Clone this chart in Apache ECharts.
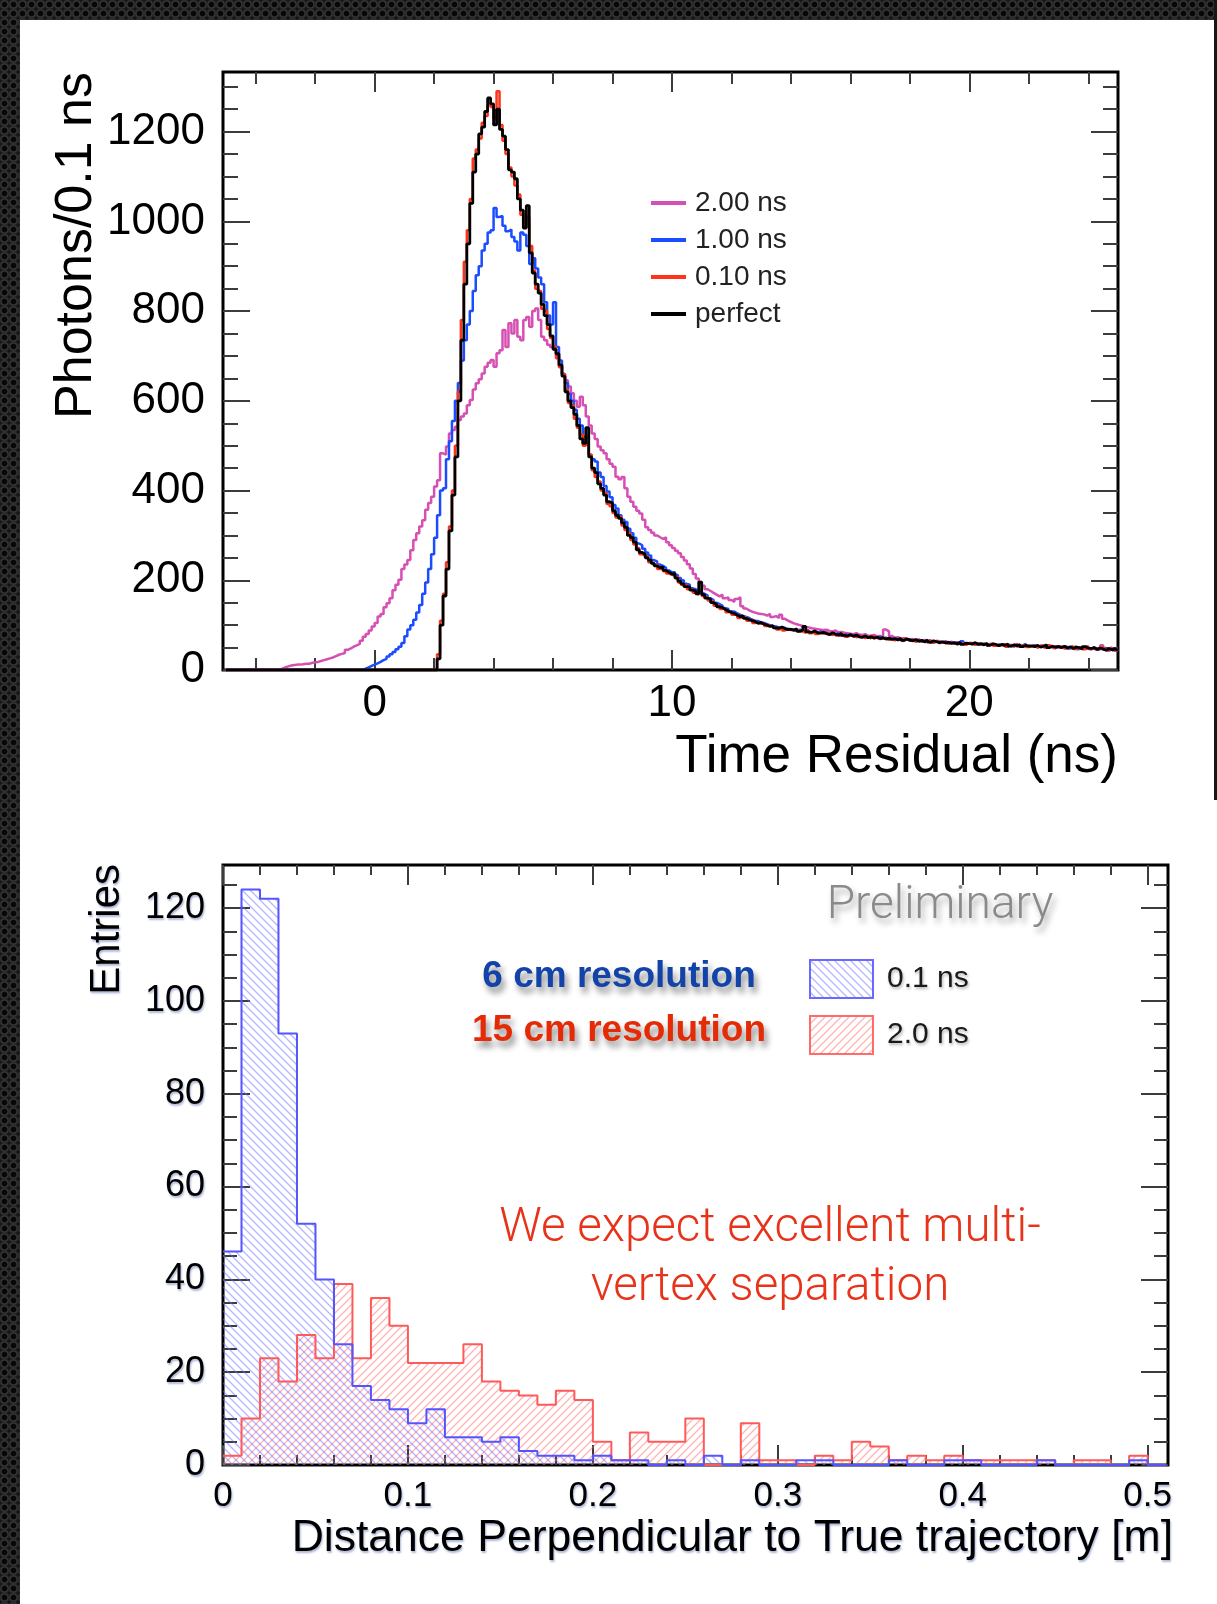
<!DOCTYPE html>
<html>
<head>
<meta charset="utf-8">
<title>Time residual and vertex distance</title>
<script src="https://cdn.jsdelivr.net/npm/echarts@6/dist/echarts.min.js"></script>
<style>
  html, body { margin: 0; padding: 0; width: 1217px; height: 1604px; overflow: hidden; }
  body {
    background-color: #1b1b1b;
    background-image: radial-gradient(circle, #070707 0 2.4px, #3b3b3b 3.4px, #272727 4.4px, #141414 5.6px);
    background-size: 9px 9px;
  }
  #panel { position: absolute; left: 20px; top: 20px; right: 0; bottom: 0; background: #fff; }
  #edge { position: absolute; left: 1214px; top: 0; width: 3px; height: 800px; background: #161616; }
  #chart { position: absolute; left: 0; top: 0; width: 1217px; height: 1604px; }
</style>
</head>
<body>
<div id="panel"></div>
<div id="edge"></div>
<div id="chart"></div>
<script>
// ---------- Time residual histograms: photons per 0.1 ns bin, bins from -5.0 ns ----------
const TR_START = -5.0;
const TR_BIN = 0.1;

const perfect = [
  0,0,0,0,0,0,0,0,0,0,   // -5.0
  0,0,0,0,0,0,0,0,0,0,   // -4.0
  0,0,0,0,0,0,0,0,0,0,   // -3.0
  0,0,0,0,0,0,0,0,0,0,   // -2.0
  0,0,0,0,0,0,0,0,0,0,   // -1.0
  0,0,0,0,0,0,0,0,0,0,   //  0.0
  0,0,0,0,0,0,0,0,0,0,   //  1.0
  0,25,100,165,225,310,390,475,600,735,
  860,950,1040,1110,1150,1195,1210,1245,1275,1262,
  1215,1250,1205,1190,1160,1115,1110,1095,1050,1025,
  985,1035,930,885,860,840,815,790,770,745,
  715,705,680,655,620,600,585,570,545,515,
  505,540,475,450,440,415,405,390,375,372,
  355,345,338,328,318,300,295,285,268,262,
  258,250,245,238,232,228,230,222,218,214,
  215,205,198,192,186,185,178,176,170,196,
  168,160,158,150,146,141,139,135,131,128,
  126,122,119,121,115,112,110,108,104,106,
  102,100,97,99,94,93,96,92,90,91,
  88,92,86,89,97,85,84,87,83,82,
  84,81,79,83,80,78,82,77,76,79,
  75,78,74,73,76,72,74,71,73,70,
  72,69,71,68,70,67,71,66,69,67,
  65,68,64,66,63,67,62,65,63,61,
  63,60,62,59,61,58,62,57,60,59,
  58,61,57,59,56,60,55,58,57,54,
  57,55,58,53,56,54,57,52,55,53,
  54,52,55,51,53,56,50,53,51,52,
  50,53,49,52,48,51,50,47,52,49,
  48,50,46,49,47,44,48,45,47,44
];

const res010 = [
  0,0,0,0,0,0,0,0,0,0,
  0,0,0,0,0,0,0,0,0,0,
  0,0,0,0,0,0,0,0,0,0,
  0,0,0,0,0,0,0,0,0,0,
  0,0,0,0,0,0,0,0,0,0,
  0,0,0,0,0,0,0,0,0,0,
  0,0,0,0,0,0,0,0,0,0,
  0,35,110,170,240,320,400,500,620,780,
  910,980,1050,1140,1160,1185,1220,1235,1260,1255,
  1230,1290,1215,1180,1150,1120,1100,1080,1060,1015,
  990,1010,945,890,850,845,805,800,760,740,
  720,695,675,660,625,595,590,560,540,525,
  500,520,480,445,430,420,400,395,370,365,
  350,340,342,322,312,305,290,280,272,258,
  255,252,240,236,235,225,226,220,215,212,
  210,207,195,190,189,180,180,172,168,175,
  165,162,155,152,143,144,136,137,129,130,
  123,124,116,119,117,110,112,105,106,103,
  104,98,99,96,95,90,93,88,92,89,
  90,89,87,86,83,88,82,86,80,84,
  81,83,80,78,82,77,79,80,74,77,
  77,73,76,75,71,74,70,75,72,69,
  70,71,67,70,66,69,68,64,70,66,
  67,63,66,65,62,64,66,61,64,60,
  61,62,58,61,60,57,60,59,56,60,
  60,56,59,57,58,55,57,59,54,56,
  55,58,52,56,53,57,53,54,56,51,
  53,54,50,54,52,49,55,51,48,53,
  52,48,51,50,53,47,49,52,46,50,
  46,49,48,45,50,46,43,47,45,42
];

const res100 = [
  0,0,0,0,0,0,0,0,0,0,
  0,0,0,0,0,0,0,0,0,0,
  0,0,0,0,0,0,0,0,0,0,
  0,0,0,0,0,0,0,0,0,0,
  0,0,0,0,0,0,3,6,9,12,
  15,18,22,25,30,35,40,46,52,60,
  75,90,100,112,128,145,170,195,225,258,
  295,345,400,405,470,510,555,600,640,690,
  735,770,800,845,880,900,935,950,975,980,
  1030,1010,1012,990,978,982,965,955,935,975,
  970,945,905,918,895,875,860,820,790,770,
  820,720,690,660,640,615,600,580,560,545,
  520,505,480,470,465,440,430,410,398,385,
  368,360,345,335,330,315,305,295,282,278,
  270,262,255,245,242,235,232,228,222,218,
  218,212,205,200,192,190,182,180,176,172,
  170,166,160,156,150,147,143,138,136,131,
  130,126,123,120,118,116,112,110,109,106,
  105,102,100,98,97,95,93,94,91,90,
  91,88,90,87,86,89,84,85,83,86,
  82,84,80,81,79,82,77,80,78,76,
  78,75,77,73,76,72,75,73,71,74,
  70,72,69,71,67,70,68,66,69,65,
  66,64,67,63,65,62,66,61,64,62,
  61,63,60,62,58,61,59,64,58,60,
  57,60,58,56,59,55,58,56,54,57,
  56,54,57,55,52,56,53,55,58,52,
  53,55,51,54,52,50,54,52,49,53,
  51,49,53,48,50,52,47,51,49,48,
  47,49,45,48,46,50,44,47,43,46
];

const res200 = [
  0,0,0,0,0,0,0,0,0,0,
  0,0,0,0,0,0,0,0,3,6,
  8,10,11,12,12,13,14,14,16,17,
  18,20,22,24,26,28,31,34,36,38,
  45,48,52,55,58,65,74,80,88,97,
  105,119,125,140,149,160,178,190,201,225,
  235,245,267,290,305,320,334,357,372,386,
  409,423,483,480,498,527,535,542,557,565,
  572,590,602,625,639,648,661,676,685,691,
  676,706,713,758,720,773,750,780,743,735,
  780,787,765,800,806,780,743,735,725,720,
  715,700,676,660,646,632,617,600,587,609,
  590,565,545,527,515,498,490,483,470,460,
  453,431,425,430,405,386,375,364,355,349,
  335,318,312,306,300,296,292,296,285,278,
  272,266,260,252,244,236,226,214,204,196,
  188,180,176,172,168,164,168,160,162,156,
  152,158,162,142,137,133,130,128,126,125,
  124,121,125,118,120,116,123,114,110,107,
  104,102,100,98,96,95,93,92,91,90,
  89,90,87,86,88,84,85,83,82,81,
  80,82,79,78,80,76,77,78,75,76,
  74,90,86,76,72,73,70,71,69,68,
  69,66,68,65,67,64,66,63,65,64,
  62,64,61,63,60,62,59,61,58,60,
  59,57,60,56,58,55,57,59,54,56,
  57,54,56,53,55,58,52,54,53,55,
  52,55,51,53,56,50,52,54,49,51,
  50,53,48,51,49,52,47,50,48,53,
  47,51,46,49,55,45,48,50,44,47
];

// ---------- Distance to the true trajectory: entries per 0.01 m bin, bins from 0 ----------
const DIST_START = 0;
const DIST_BIN = 0.01;
const dist01ns = [
  46,124,122,93,52,40,26,17,14,12,
  9,12,6,6,5,6,3,2,2,1,
  2,1,1,0,1,0,2,0,1,0,
  0,1,1,0,0,0,1,0,0,1,
  1,0,0,0,1,0,0,0,0,1,
  0
];
const dist20ns = [
  2,10,23,18,28,23,39,23,36,30,
  22,22,22,26,18,16,15,13,16,14,
  5,1,7,5,5,10,0,0,9,1,
  1,0,2,1,5,4,1,2,1,2,
  1,1,1,1,1,0,1,1,0,2,
  0
];

// ---------- Axis ticks ----------
const trTicksX = [0, 10, 20];
const trMinorX = [-4, -2, 2, 4, 6, 8, 12, 14, 16, 18, 22, 24];
const trTicksY = [0, 200, 400, 600, 800, 1000, 1200];
const trMinorY = [50, 100, 150, 250, 300, 350, 450, 500, 550, 650, 700, 750, 850, 900, 950, 1050, 1100, 1150, 1250, 1300];
const dTicksX = [0, 0.1, 0.2, 0.3, 0.4, 0.5];
const dMinorX = [0.02, 0.04, 0.06, 0.08, 0.12, 0.14, 0.16, 0.18, 0.22, 0.24, 0.26, 0.28,
                 0.32, 0.34, 0.36, 0.38, 0.42, 0.44, 0.46, 0.48];
const dTicksY = [0, 20, 40, 60, 80, 100, 120];
const dMinorY = [5, 10, 15, 25, 30, 35, 45, 50, 55, 65, 70, 75, 85, 90, 95, 105, 110, 115, 125];

const FONT = '"Liberation Sans", Arial, Helvetica, sans-serif';
const LIGHT = 'Roboto, "Liberation Sans", sans-serif';

// Histogram bins as step-line points (left edges, plus the closing right edge).
function histPoints(values, start, width) {
  const pts = values.map((v, i) => [+(start + i * width).toFixed(4), v]);
  pts.push([+(start + values.length * width).toFixed(4), values[values.length - 1]]);
  return pts;
}

// Diagonal hatch tile used as a fill pattern.
function hatch(color, rising, size, lw) {
  const c = document.createElement('canvas');
  c.width = size; c.height = size;
  const g = c.getContext('2d');
  g.strokeStyle = color;
  g.lineWidth = lw;
  g.beginPath();
  if (rising) {
    g.moveTo(0, size); g.lineTo(size, 0);
    g.moveTo(-size / 2, size / 2); g.lineTo(size / 2, -size / 2);
    g.moveTo(size / 2, size * 1.5); g.lineTo(size * 1.5, size / 2);
  } else {
    g.moveTo(0, 0); g.lineTo(size, size);
    g.moveTo(-size / 2, size / 2); g.lineTo(size / 2, size * 1.5);
    g.moveTo(size / 2, -size / 2); g.lineTo(size * 1.5, size / 2);
  }
  g.stroke();
  return { image: c, repeat: 'repeat' };
}

// Four tick sets (major + minor on both sides) for one direction of a framed plot.
function frameAxes(dim, gridIndex, min, max, major, minor, majorLen, minorLen, label) {
  const sides = dim === 'x' ? ['bottom', 'top'] : ['left', 'right'];
  const out = [];
  sides.forEach((pos, s) => {
    [[major, majorLen], [minor, minorLen]].forEach(([vals, len], m) => {
      out.push({
        type: 'value', gridIndex: gridIndex, position: pos, min: min, max: max,
        silent: true,
        axisLine: { show: false, onZero: false },
        splitLine: { show: false },
        axisTick: { show: true, inside: true, length: len, customValues: vals,
                    lineStyle: { color: '#3c3c3c', width: 2 } },
        axisLabel: (s === 0 && m === 0)
          ? Object.assign({ show: true, customValues: vals, formatter: v => String(v) }, label)
          : { show: false }
      });
    });
  });
  return out;
}

const topLabelX = { fontSize: 44, fontFamily: FONT, color: '#000', margin: 12 };
const topLabelY = { fontSize: 44, fontFamily: FONT, color: '#000', margin: 18 };
const fringe = { textShadowColor: 'rgba(20,50,140,0.35)', textShadowBlur: 2, textShadowOffsetX: 1, textShadowOffsetY: 2 };
const botLabelX = Object.assign({ fontSize: 35, fontFamily: FONT, color: '#000', margin: 14 }, fringe);
const botLabelY = Object.assign({ fontSize: 36, fontFamily: FONT, color: '#000', margin: 18 }, fringe);

const xAxes = [].concat(
  frameAxes('x', 0, -5.1, 25, trTicksX, trMinorX, 20, 12, topLabelX),
  frameAxes('x', 1, 0, 0.511, dTicksX, dMinorX, 20, 10, botLabelX)
);
const yAxes = [].concat(
  frameAxes('y', 0, 0, 1333, trTicksY, trMinorY, 27, 15, topLabelY),
  frameAxes('y', 1, 0, 129.3, dTicksY, dMinorY, 27, 14, botLabelY)
);

const C_MAG = '#d64fb2', C_BLUE = '#1b4cff', C_RED = '#ff3319', C_BLACK = '#000000';
const H_BLUE = '#5555ff', H_RED = '#ff5a5a';
const bluePattern = hatch('rgba(110,110,255,0.5)', false, 8, 1.3);
const redPattern = hatch('rgba(255,105,105,0.5)', true, 8, 1.3);

function trSeries(name, values, color, width) {
  return {
    type: 'line', name: name, xAxisIndex: 0, yAxisIndex: 0,
    step: 'end', symbol: 'none', showSymbol: false, silent: true,
    color: color,
    lineStyle: { color: color, width: width },
    data: histPoints(values, TR_START, TR_BIN)
  };
}
function distSeries(name, values, color, pattern) {
  return {
    type: 'line', name: name, xAxisIndex: 4, yAxisIndex: 4,
    step: 'end', symbol: 'none', showSymbol: false, silent: true,
    color: color,
    lineStyle: { color: color, width: 2 },
    areaStyle: { color: pattern, opacity: 1 },
    data: histPoints(values, DIST_START, DIST_BIN)
  };
}

function label(text, x, y, opts) {
  return {
    type: 'text', x: x, y: y, rotation: opts.rotation || 0, silent: true, z: 100,
    style: Object.assign({
      text: text, fontFamily: FONT, fill: '#000',
      align: opts.align || 'left', textAlign: opts.align || 'left',
      verticalAlign: 'middle', textVerticalAlign: 'middle'
    }, opts.style)
  };
}

const chart = echarts.init(document.getElementById('chart'), null, { renderer: 'canvas', width: 1217, height: 1604 });
chart.setOption({
  animation: false,
  backgroundColor: 'transparent',
  grid: [
    { left: 223, top: 72, width: 895, height: 598, show: true, borderColor: '#000', borderWidth: 3, backgroundColor: 'transparent' },
    { left: 223, top: 865, width: 945, height: 600, show: true, borderColor: '#000', borderWidth: 3, backgroundColor: 'transparent' }
  ],
  xAxis: xAxes,
  yAxis: yAxes,
  legend: [
    {
      data: ['2.00 ns', '1.00 ns', '0.10 ns', 'perfect'],
      orient: 'vertical', left: 651, top: 189, padding: 0,
      icon: 'rect', itemWidth: 35, itemHeight: 4, itemGap: 9,
      selectedMode: false,
      textStyle: { fontSize: 28, fontFamily: FONT, color: '#222', lineHeight: 28, padding: [0, 0, 0, 4] }
    },
    {
      data: [
        { name: '0.1 ns', icon: 'rect', itemStyle: { color: bluePattern, borderColor: '#6a6aff', borderWidth: 2 } },
        { name: '2.0 ns', icon: 'rect', itemStyle: { color: redPattern, borderColor: '#ff6a6a', borderWidth: 2 } }
      ],
      orient: 'vertical', left: 809, top: 959, padding: 0,
      itemWidth: 63, itemHeight: 38, itemGap: 16,
      selectedMode: false,
      textStyle: Object.assign({ fontSize: 30, fontFamily: FONT, color: '#1a1a1a', padding: [0, 0, 0, 9] },
        { textShadowColor: 'rgba(0,0,0,0.3)', textShadowBlur: 3, textShadowOffsetX: 1, textShadowOffsetY: 2 })
    }
  ],
  series: [
    trSeries('2.00 ns', res200, C_MAG, 2.5),
    trSeries('1.00 ns', res100, C_BLUE, 2.5),
    trSeries('0.10 ns', res010, C_RED, 2.5),
    trSeries('perfect', perfect, C_BLACK, 2.8),
    distSeries('2.0 ns', dist20ns, H_RED, redPattern),
    distSeries('0.1 ns', dist01ns, H_BLUE, bluePattern)
  ],
  graphic: [
    label('Photons/0.1 ns', 77, 72, { rotation: Math.PI / 2, align: 'right', style: { fontSize: 52 } }),
    label('Time Residual (ns)', 1118, 757, { align: 'right', style: { fontSize: 53 } }),
    label('Entries', 107, 864, { rotation: Math.PI / 2, align: 'right', style: Object.assign({ fontSize: 42 }, fringe) }),
    label('Distance Perpendicular to True trajectory [m]', 1173, 1539, { align: 'right', style: Object.assign({ fontSize: 44.5 }, fringe) }),
    label('Preliminary', 940, 906, { align: 'center', style: {
      fontSize: 46, fontFamily: LIGHT, fontWeight: 300, fill: '#8a8a8a',
      textShadowColor: 'rgba(0,0,0,0.35)', textShadowBlur: 6, textShadowOffsetX: 3, textShadowOffsetY: 5 } }),
    label('6 cm resolution', 619, 977, { align: 'center', style: {
      fontSize: 37, fontWeight: 'bold', fill: '#1243a8',
      textShadowColor: 'rgba(0,0,0,0.45)', textShadowBlur: 6, textShadowOffsetX: 3, textShadowOffsetY: 6 } }),
    label('15 cm resolution', 619, 1031, { align: 'center', style: {
      fontSize: 37, fontWeight: 'bold', fill: '#e52a06',
      textShadowColor: 'rgba(0,0,0,0.45)', textShadowBlur: 6, textShadowOffsetX: 3, textShadowOffsetY: 6 } }),
    label('We expect excellent multi-', 770, 1229, { align: 'center', style: {
      fontSize: 47.5, fontFamily: LIGHT, fontWeight: 300, fill: '#e8331b' } }),
    label('vertex separation', 770, 1288, { align: 'center', style: {
      fontSize: 47.5, fontFamily: LIGHT, fontWeight: 300, fill: '#e8331b' } })
  ]
});
</script>
</body>
</html>
